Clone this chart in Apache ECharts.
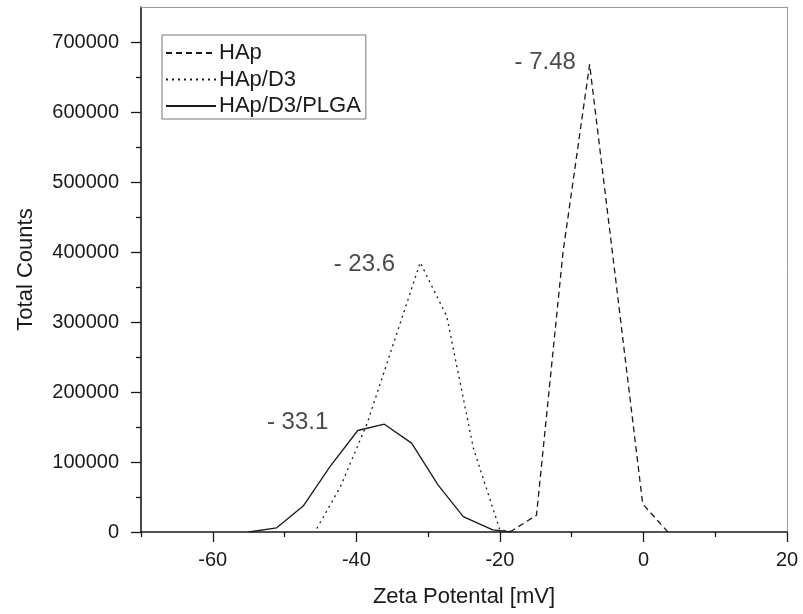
<!DOCTYPE html>
<html>
<head>
<meta charset="utf-8">
<script src="https://cdn.jsdelivr.net/npm/echarts@6/dist/echarts.min.js"></script>
<style>
    html, body {margin:0; padding:0; background:#fff;}
    #chart {width:803px; height:614px;}
</style>
</head>
<body>
<div id="chart"></div>
<script>
// zeta potential distributions
var hapX = [-18.6, -14.9, -11.2, -7.5, -3.8, -0.1, 3.4];
var hapY = [0, 24000, 400000, 668000, 355000, 40000, 0];

var hapD3X = [-45.5, -42.2, -38.5, -34.8, -31.1, -27.4, -23.7, -20.0, -17.8];
var hapD3Y = [5000, 65000, 155000, 270000, 385000, 308000, 120000, 3000, 0];

var plgaX = [-55.0, -51.1, -47.4, -43.7, -39.8, -36.1, -32.3, -28.6, -25.1, -21.0, -18.5];
var plgaY = [0, 6000, 37000, 93000, 145000, 154000, 127000, 67000, 22000, 3000, 0];

var seriesNames = ['HAp', 'HAp/D3', 'HAp/D3/PLGA'];

var xLabels = [-60, -40, -20, 0, 20];
var xMinor = [-70, -50, -30, -10, 10];
var yLabels = [0, 100000, 200000, 300000, 400000, 500000, 600000, 700000];
var yMinor = [50000, 150000, 250000, 350000, 450000, 550000, 650000];

// peak labels
var noteText = ['- 7.48', '- 23.6', '- 33.1'];
var noteX = [-9.4, -34.6, -43.9];
var noteY = [671000, 382000, 156000];

(function(){

    var ink = '#1a1a1a';
    var frame = '#9a9a9a';
    var font = 'Liberation Sans, Arial, sans-serif';

    function pairs(xs, ys){
        var out = [];
        for(var i = 0; i < xs.length; i++) out.push([xs[i], ys[i]]);
        return out;
    }

    function lineSeries(name, xs, ys, dash){
        return {
            name : name,
            type : 'line',
            data : pairs(xs, ys),
            showSymbol : false,
            symbol : 'none',
            silent : true,
            lineStyle : {color : ink, width : 1.3, type : dash},
            itemStyle : {color : ink}
        };
    }

    // bare axis used only for its line or its minor ticks
    function plainAxis(min, max, pos, lineColor, minor){
        return {
            type : 'value',
            min : min,
            max : max,
            position : pos,
            splitLine : {show : false},
            axisLine : {show : !!lineColor, onZero : false, lineStyle : {color : lineColor || ink, width : 1}},
            axisTick : minor ? {length : 5, lineStyle : {color : ink, width : 1.3}, customValues : minor} : {show : false},
            axisLabel : {show : false}
        };
    }

    var notes = [];
    for(var i = 0; i < noteText.length; i++){
        notes.push({name : noteText[i], value : [noteX[i], noteY[i]]});
    }

    var option = {
        backgroundColor : '#fff',
        animation : false,
        grid : {left : 141, right : 16, top : 7, bottom : 82},
        legend : {
            data : seriesNames,
            orient : 'vertical',
            left : 162,
            top : 35,
            padding : [7, 5, 2, 3],
            itemGap : 4.5,
            itemWidth : 50,
            itemHeight : 14,
            itemStyle : {opacity : 0},
            borderColor : '#777',
            borderWidth : 1,
            textStyle : {fontFamily : font, fontSize : 22, color : ink, lineHeight : 22, padding : [0, 0, 0, -2]}
        },
        xAxis : [{
            type : 'value',
            min : -70,
            max : 20,
            position : 'bottom',
            name : 'Zeta Potental [mV]',
            nameLocation : 'middle',
            nameGap : 54,
            nameTextStyle : {fontFamily : font, fontSize : 22, color : ink},
            splitLine : {show : false},
            axisLine : {onZero : false, lineStyle : {color : ink, width : 1.6}},
            axisTick : {length : 10, lineStyle : {color : ink, width : 1.3}, customValues : xLabels},
            axisLabel : {fontFamily : font, fontSize : 20, color : ink, margin : 18, customValues : xLabels}
        },
            plainAxis(-70, 20, 'bottom', null, xMinor),
            plainAxis(-70, 20, 'top', frame, null)
        ],
        yAxis : [{
            type : 'value',
            min : 0,
            max : 750000,
            position : 'left',
            name : 'Total Counts',
            nameLocation : 'middle',
            nameGap : 104,
            nameTextStyle : {fontFamily : font, fontSize : 22, color : ink},
            splitLine : {show : false},
            axisLine : {onZero : false, lineStyle : {color : ink, width : 1.6}},
            axisTick : {length : 10, lineStyle : {color : ink, width : 1.3}, customValues : yLabels},
            axisLabel : {
                fontFamily : font, fontSize : 20, color : ink, margin : 22, customValues : yLabels,
                formatter : function(v){ return String(v); }
            }
        },
            plainAxis(0, 750000, 'left', null, yMinor),
            plainAxis(0, 750000, 'right', frame, null)
        ],
        series : [
            lineSeries(seriesNames[0], hapX, hapY, [6, 4]),
            lineSeries(seriesNames[1], hapD3X, hapD3Y, [2, 4]),
            lineSeries(seriesNames[2], plgaX, plgaY, 'solid'),
            {
                name : 'notes',
                type : 'scatter',
                data : notes,
                symbolSize : 0.1,
                silent : true,
                itemStyle : {color : 'transparent'},
                label : {
                    show : true,
                    position : 'left',
                    distance : 0,
                    formatter : function(p){ return p.name; },
                    fontFamily : font,
                    fontSize : 24,
                    color : ink
                }
            }
        ]
    };

    var chart = echarts.init(document.getElementById('chart'), null, {renderer : 'canvas'});
    chart.setOption(option);

})();
</script>
</body>
</html>
